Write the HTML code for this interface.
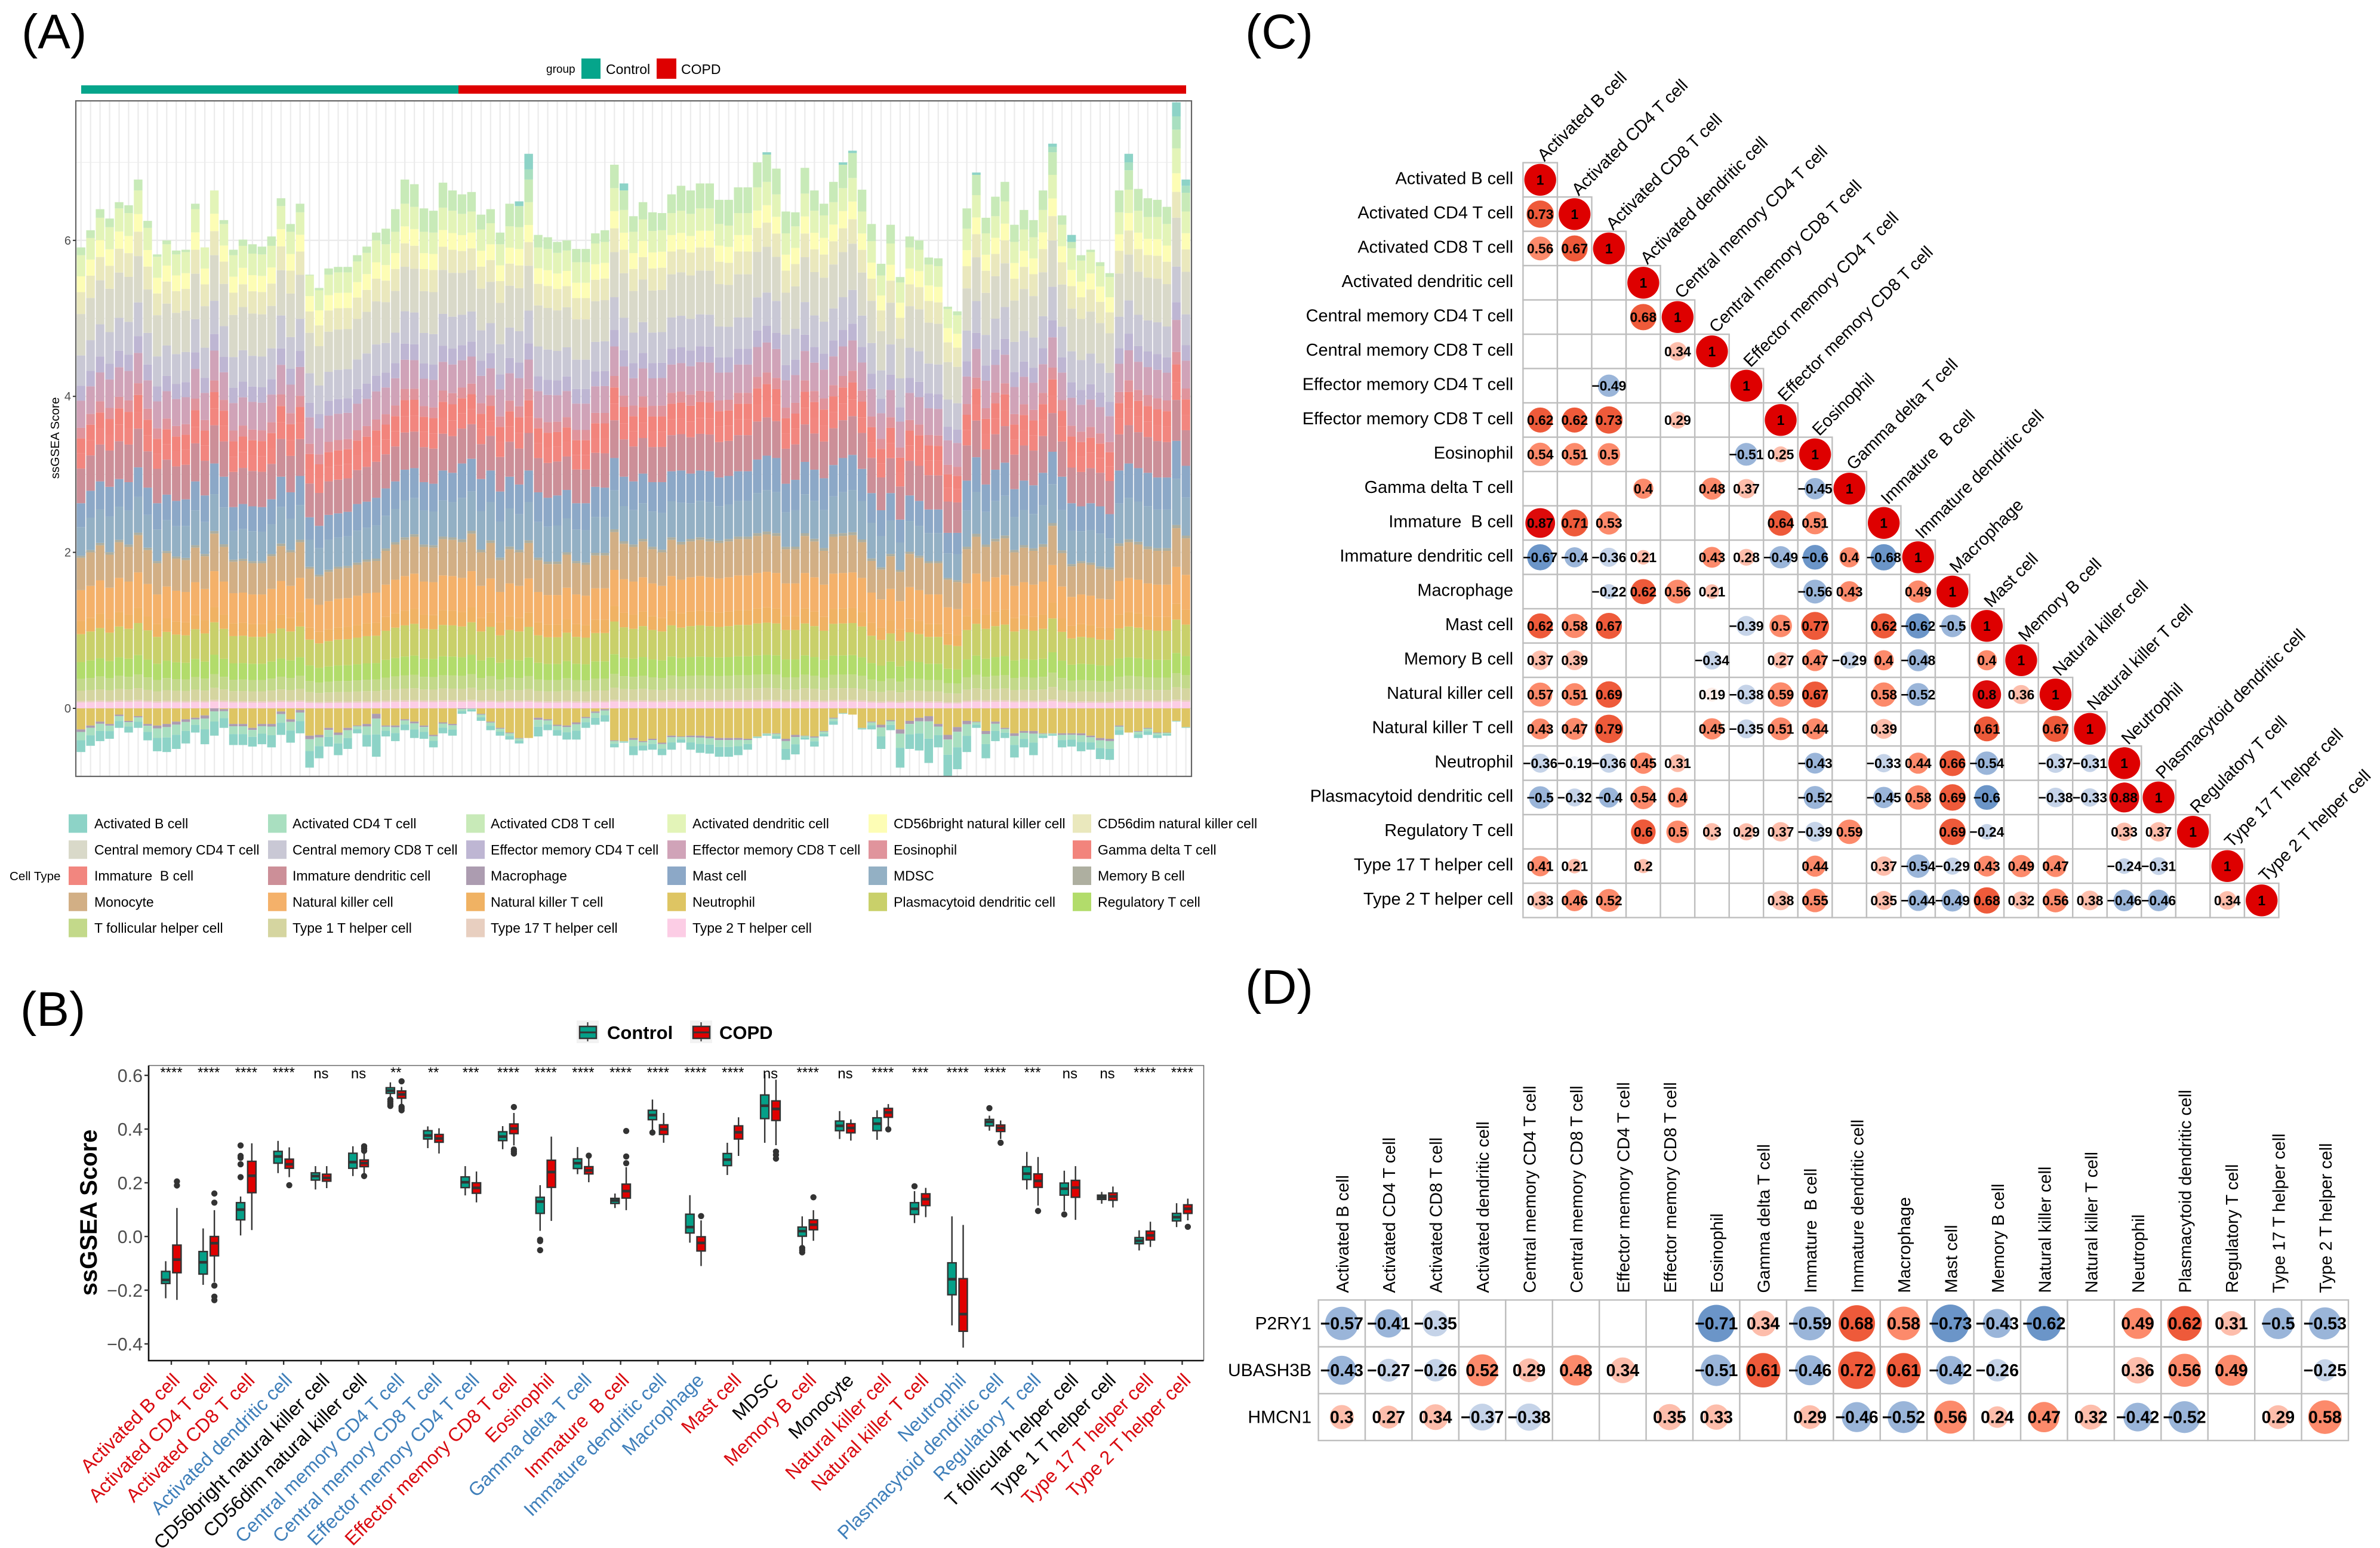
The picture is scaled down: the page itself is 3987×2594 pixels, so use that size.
<!DOCTYPE html>
<html lang="en">
<head>
<meta charset="utf-8">
<title>Immune infiltration figure</title>
<style>
html,body{margin:0;padding:0;background:#fff}
svg{display:block}
text{font-family:"Liberation Sans",sans-serif;white-space:pre}
</style>
</head>
<body>
<svg id="figure" xmlns="http://www.w3.org/2000/svg" width="3987" height="2594" viewBox="0 0 3987 2594">
<rect x="0" y="0" width="3987" height="2594" fill="#fff"/>

<text x="36" y="81" font-size="82">(A)</text>
<text x="34" y="1719" font-size="82">(B)</text>
<text x="2086" y="81" font-size="82">(C)</text>
<text x="2086" y="1682" font-size="82">(D)</text>

<g id="panelA">
  <text x="915" y="122" font-size="19">group</text>
  <rect x="974" y="98" width="32" height="34" fill="#05A58B"/>
  <text x="1015" y="124" font-size="23">Control</text>
  <rect x="1100" y="98" width="33" height="34" fill="#DE0000"/>
  <text x="1141" y="124" font-size="23">COPD</text>
  <rect x="136" y="143" width="632" height="14" fill="#05A58B"/>
  <rect x="768" y="143" width="1219" height="14" fill="#DE0000"/>
  <text transform="translate(99,734) rotate(-90)" text-anchor="middle" font-size="20.7">ssGSEA Score</text>
  <text x="16" y="1475" font-size="20.6">Cell Type</text>
</g>

<g id="panelB">
  <rect x="966" y="1710" width="37" height="38" fill="#f2f2f2"/>
  <line x1="984.5" x2="984.5" y1="1713" y2="1745" stroke="#333" stroke-width="2"/>
  <rect x="971" y="1720" width="28" height="20" fill="#04A088" stroke="#333" stroke-width="2.5"/>
  <line x1="971" x2="999" y1="1730" y2="1730" stroke="#333" stroke-width="3"/>
  <text x="1017" y="1741" font-size="31" font-weight="bold">Control</text>
  <rect x="1156" y="1710" width="37" height="38" fill="#f2f2f2"/>
  <line x1="1174.5" x2="1174.5" y1="1713" y2="1745" stroke="#333" stroke-width="2"/>
  <rect x="1161" y="1720" width="28" height="20" fill="#E00000" stroke="#333" stroke-width="2.5"/>
  <line x1="1161" x2="1189" y1="1730" y2="1730" stroke="#333" stroke-width="3"/>
  <text x="1205" y="1741" font-size="31" font-weight="bold">COPD</text>
  <text transform="translate(162,2032) rotate(-90)" text-anchor="middle" font-size="40" font-weight="bold">ssGSEA Score</text>
</g>

<g id="panelC"></g>
<g id="panelD"></g>
</svg>

<script>
/* ---------- Panel A data ---------- */
const cellTypes = ["Activated B cell","Activated CD4 T cell","Activated CD8 T cell","Activated dendritic cell","CD56bright natural killer cell","CD56dim natural killer cell","Central memory CD4 T cell","Central memory CD8 T cell","Effector memory CD4 T cell","Effector memory CD8 T cell","Eosinophil","Gamma delta T cell","Immature  B cell","Immature dendritic cell","Macrophage","Mast cell","MDSC","Memory B cell","Monocyte","Natural killer cell","Natural killer T cell","Neutrophil","Plasmacytoid dendritic cell","Regulatory T cell","T follicular helper cell","Type 1 T helper cell","Type 17 T helper cell","Type 2 T helper cell"];
const stackTicks = [0,2,4,6];
const stackTop = [5.91,6.13,6.40,6.28,6.49,6.45,6.78,6.25,5.82,6.00,5.87,5.88,6.47,5.91,6.64,6.26,5.88,6.01,5.95,5.92,6.05,6.54,6.21,6.47,5.56,5.39,5.64,5.66,5.66,5.81,5.92,6.10,6.15,6.40,6.78,6.72,6.41,6.38,6.74,6.64,6.59,6.62,6.33,6.40,6.10,6.47,6.50,7.11,6.07,6.04,5.98,6.00,5.89,5.89,6.09,6.13,6.97,6.73,6.31,6.49,6.36,6.35,6.59,6.70,6.64,6.73,6.73,6.52,6.52,6.68,6.68,7.00,7.13,6.92,6.37,6.36,6.93,6.64,6.47,6.75,7.00,7.15,6.65,6.21,5.70,6.20,5.53,6.05,6.00,5.78,5.77,5.15,5.09,6.41,6.87,6.29,6.56,6.75,6.20,6.39,6.26,6.64,7.24,6.32,6.07,5.81,5.88,5.72,5.58,6.64,7.11,6.66,6.54,6.52,6.43,7.77,6.78];
const mastTop = [2.63,2.79,2.91,2.84,2.94,2.90,3.09,2.83,2.63,2.74,2.66,2.68,2.91,2.73,3.14,2.97,2.58,2.62,2.59,2.58,2.68,2.97,2.77,2.98,2.45,2.34,2.48,2.50,2.52,2.62,2.65,2.70,2.82,2.91,3.06,3.08,2.90,2.88,3.05,3.02,3.14,3.20,2.94,3.05,2.78,2.97,2.87,3.05,2.77,2.70,2.73,2.80,2.63,2.63,2.84,2.83,3.21,2.97,2.91,3.01,2.90,2.90,3.04,3.05,3.01,3.05,3.04,2.96,2.98,3.04,3.04,3.19,3.24,3.21,2.88,2.93,3.16,3.06,2.95,3.12,3.21,3.25,3.07,2.76,2.54,2.76,2.42,2.73,2.66,2.55,2.55,2.25,2.25,2.92,3.22,2.87,3.06,3.15,2.81,2.92,2.86,3.02,3.29,2.97,2.63,2.59,2.63,2.59,2.49,3.05,3.14,3.08,3.02,2.96,2.96,3.43,3.11];
const monocyteTop = [1.93,2.00,2.09,1.97,2.13,2.07,2.22,2.03,1.86,1.99,1.92,1.90,2.06,1.95,2.24,2.07,1.88,1.89,1.86,1.86,1.95,2.08,2.00,2.13,1.79,1.69,1.75,1.79,1.80,1.84,1.88,1.89,2.02,2.10,2.16,2.20,2.07,2.06,2.17,2.16,2.13,2.24,2.00,2.12,1.90,2.04,2.00,2.12,1.90,1.85,1.85,1.97,1.86,1.84,1.96,1.96,2.26,2.11,2.07,2.14,2.04,2.00,2.16,2.10,2.14,2.16,2.14,2.12,2.14,2.17,2.17,2.21,2.23,2.21,2.04,2.04,2.21,2.14,2.02,2.20,2.21,2.22,2.13,1.89,1.78,1.95,1.75,1.98,1.93,1.86,1.86,1.65,1.62,2.04,2.20,2.07,2.14,2.18,2.00,2.06,2.02,2.07,2.34,1.99,1.82,1.86,1.84,1.79,1.78,2.08,2.13,2.10,2.04,2.02,2.02,2.31,2.18];
const stackBottom = [-.56,-.48,-.42,-.39,-.25,-.31,-.25,-.41,-.55,-.56,-.52,-.45,-.31,-.46,-.35,-.25,-.47,-.47,-.49,-.46,-.50,-.34,-.44,-.32,-.76,-.64,-.49,-.60,-.52,-.32,-.49,-.62,-.36,-.42,-.28,-.38,-.39,-.50,-.32,-.35,-.07,-.04,-.16,-.28,-.35,-.40,-.45,-.38,-.36,-.28,-.35,-.40,-.40,-.25,-.21,-.17,-.50,-.44,-.60,-.54,-.53,-.60,-.53,-.44,-.53,-.57,-.58,-.62,-.62,-.60,-.53,-.38,-.35,-.39,-.66,-.59,-.40,-.49,-.36,-.21,-.07,-.08,-.27,-.27,-.52,-.28,-.76,-.52,-.54,-.70,-.50,-.87,-.78,-.56,-.25,-.64,-.42,-.38,-.63,-.50,-.60,-.38,-.35,-.50,-.49,-.55,-.53,-.65,-.66,-.34,-.31,-.38,-.34,-.38,-.35,-.17,-.25];
const neutrophilBottom = [-.27,-.22,-.17,-.20,-.08,-.16,-.10,-.20,-.22,-.20,-.17,-.14,-.12,-.09,0,-.01,-.20,-.20,-.25,-.20,-.20,-.04,-.14,-.02,-.35,-.34,-.25,-.31,-.25,-.22,-.20,-.07,-.22,-.22,-.14,-.17,-.22,-.34,-.18,-.20,0,0,-.07,-.17,-.25,-.31,-.38,-.38,-.12,-.14,-.21,-.22,-.18,-.11,-.04,-.01,-.41,-.42,-.38,-.42,-.39,-.44,-.35,-.36,-.35,-.35,-.36,-.38,-.38,-.38,-.39,-.36,-.32,-.32,-.39,-.34,-.35,-.36,-.29,-.12,-.06,-.08,-.25,-.17,-.21,-.15,-.27,-.16,-.12,-.10,-.20,-.34,-.24,-.16,-.17,-.29,-.17,-.25,-.32,-.29,-.29,-.32,-.32,-.32,-.32,-.32,-.35,-.38,-.39,-.22,-.31,-.29,-.25,-.31,-.31,-.16,-.24];
const activatedCD8Layer = [.10,.10,.11,.11,.08,.10,.14,.09,.03,.05,.05,.03,.07,0,0,.05,.07,.08,.12,.10,.12,.10,.10,.11,.01,.03,.08,.07,.07,.08,.08,.10,.20,.29,.31,.29,.30,.28,.32,.26,.25,.25,.19,.18,.15,.29,.27,.29,.16,.15,.14,.13,.17,.17,.13,.15,.30,.25,.20,.22,.24,.22,.24,.32,.30,.32,.32,.31,.33,.33,.33,.32,.35,.33,.28,.18,.33,.26,.15,.26,.30,.32,.28,.22,.15,.24,.07,.14,.12,.09,.10,.03,.05,.26,.26,.20,.25,.25,.22,.25,.22,.25,.29,.12,.08,.07,.03,.05,.05,.28,.25,.28,.24,.22,.22,.24,.24];
const capSamples = [46,47,57,72,80,81,94,102,104,110,115,116];
const capActivatedB = [.06,.20,.09,.03,.03,.03,.03,.04,.09,.11,.18,.08];
const capActivatedCD4 = [0,.13,0,0,0,0,0,.07,0,.10,.17,.09];
/* typical score of each layer, used for splitting a sample's segments */
const upperLayerMeans = [.28,.21,.29,.55,.40,.20,.36,.14,.20,.20,.46];
const middleLayerMeans = [.35,.42,.03];
const lowerLayerMeans = [.44,.42,.18,.38,.23,.16,.14,.02,.08];
const negativeLayerMeans = [.03,.10,.14];
const layerPalette = ["#8DD3C7","#A9DFC0","#C8EAB8","#E3F4B8","#FDFDB5","#EAE8BD","#D9D9C9","#C9C8D5","#BEB6D3","#D0A3B8","#E0949C","#F2847C","#F2867F","#CC8F98","#AC9CB0","#8CA8C7","#93B0C4","#AEAFA0","#D2AF85","#F4B16A","#F0B263","#DEC563","#C9D06A","#B2DC6B","#C3D98A","#D5D5A0","#E8CFC0","#FCCDE5"];

/* ---------- Panel B data ---------- */
const boxCategories = ["Activated B cell","Activated CD4 T cell","Activated CD8 T cell","Activated dendritic cell","CD56bright natural killer cell","CD56dim natural killer cell","Central memory CD4 T cell","Central memory CD8 T cell","Effector memory CD4 T cell","Effector memory CD8 T cell","Eosinophil","Gamma delta T cell","Immature  B cell","Immature dendritic cell","Macrophage","Mast cell","MDSC","Memory B cell","Monocyte","Natural killer cell","Natural killer T cell","Neutrophil","Plasmacytoid dendritic cell","Regulatory T cell","T follicular helper cell","Type 1 T helper cell","Type 17 T helper cell","Type 2 T helper cell"];
const boxSignificance = ["****","****","****","****","ns","ns","**","**","***","****","****","****","****","****","****","****","ns","****","ns","****","***","****","****","***","ns","ns","****","****"];
const boxDirection = ["up","up","up","down","none","none","down","down","down","up","up","down","up","down","down","up","none","up","none","up","up","down","down","down","none","none","up","up"];
const boxTicks = [-0.4,-0.2,0,0.2,0.4,0.6];
const controlLow = [-.23,-.18,.004,.236,.175,.225,.517,.329,.153,.325,.021,.232,.106,.396,-.023,.229,.349,-.032,.363,.36,.05,-.331,.394,.175,.095,.122,-.052,.035];
const controlQ1 = [-.175,-.14,.062,.273,.21,.254,.533,.363,.182,.357,.086,.253,.123,.435,.013,.264,.439,.001,.394,.394,.082,-.217,.412,.212,.154,.138,-.027,.058];
const controlMedian = [-.162,-.096,.10,.298,.225,.277,.543,.376,.202,.372,.13,.273,.134,.452,.035,.286,.487,.02,.412,.42,.103,-.159,.427,.234,.178,.146,-.016,.072];
const controlQ3 = [-.13,-.056,.126,.317,.237,.31,.554,.394,.222,.39,.146,.289,.142,.47,.083,.309,.527,.035,.43,.442,.126,-.098,.436,.26,.199,.154,-.004,.086];
const controlHigh = [-.092,.03,.149,.356,.262,.336,.574,.41,.262,.411,.191,.333,.16,.51,.154,.349,.604,.075,.467,.47,.169,.075,.45,.315,.245,.166,.023,.124];
const controlOutliers = [[],[],[.339,.30,.293,.269,.221],[],[],[],[.51,.502,.494,.486],[],[],[],[-.012,-.017,-.051],[],[],[.387],[],[],[],[-.043,-.051,-.059],[],[],[.187],[],[.478],[],[.082],[],[],[]];
const copdLow = [-.236,-.17,.024,.221,.18,.236,.49,.309,.127,.339,.058,.202,.098,.349,-.11,.30,.34,-.016,.357,.41,.072,-.414,.363,.115,.062,.108,-.039,.06];
const copdQ1 = [-.135,-.072,.163,.254,.206,.26,.515,.351,.161,.383,.183,.233,.143,.38,-.054,.363,.432,.025,.386,.444,.115,-.353,.391,.183,.146,.135,-.013,.086];
const copdMedian = [-.086,-.025,.226,.269,.218,.273,.529,.365,.181,.402,.24,.246,.169,.399,-.024,.388,.475,.044,.404,.462,.139,-.289,.404,.207,.182,.149,.004,.103];
const copdQ3 = [-.032,0,.28,.288,.232,.285,.542,.38,.2,.419,.284,.26,.195,.416,-.001,.412,.505,.062,.42,.477,.159,-.157,.415,.233,.209,.162,.02,.118];
const copdHigh = [.106,.098,.347,.332,.262,.31,.557,.403,.242,.46,.372,.296,.258,.46,.06,.444,.584,.098,.436,.493,.181,.043,.432,.296,.262,.186,.055,.141];
const copdOutliers = [[.205,.19],[.16,.126,-.183,-.224,-.237],[],[.191],[],[.336,.328,.319,.225],[.578,.483,.477,.47],[],[],[.482,.324,.316,.309],[],[.301],[.393,.298,.273],[],[.076],[],[.316,.304,.29],[.146],[],[.399],[],[],[.349],[.095],[],[],[],[.036]];

/* ---------- Panel C data ---------- */
const corrLabels = ["Activated B cell","Activated CD4 T cell","Activated CD8 T cell","Activated dendritic cell","Central memory CD4 T cell","Central memory CD8 T cell","Effector memory CD4 T cell","Effector memory CD8 T cell","Eosinophil","Gamma delta T cell","Immature  B cell","Immature dendritic cell","Macrophage","Mast cell","Memory B cell","Natural killer cell","Natural killer T cell","Neutrophil","Plasmacytoid dendritic cell","Regulatory T cell","Type 17 T helper cell","Type 2 T helper cell"];
const _ = null;
const corrMatrix = [
[1],
[.73,1],
[.56,.67,1],
[_,_,_,1],
[_,_,_,.68,1],
[_,_,_,_,.34,1],
[_,_,-.49,_,_,_,1],
[.62,.62,.73,_,.29,_,_,1],
[.54,.51,.5,_,_,_,-.51,.25,1],
[_,_,_,.4,_,.48,.37,_,-.45,1],
[.87,.71,.53,_,_,_,_,.64,.51,_,1],
[-.67,-.4,-.36,.21,_,.43,.28,-.49,-.6,.4,-.68,1],
[_,_,-.22,.62,.56,.21,_,_,-.56,.43,_,.49,1],
[.62,.58,.67,_,_,_,-.39,.5,.77,_,.62,-.62,-.5,1],
[.37,.39,_,_,_,-.34,_,.27,.47,-.29,.4,-.48,_,.4,1],
[.57,.51,.69,_,_,.19,-.38,.59,.67,_,.58,-.52,_,.8,.36,1],
[.43,.47,.79,_,_,.45,-.35,.51,.44,_,.39,_,_,.61,_,.67,1],
[-.36,-.19,-.36,.45,.31,_,_,_,-.43,_,-.33,.44,.66,-.54,_,-.37,-.31,1],
[-.5,-.32,-.4,.54,.4,_,_,_,-.52,_,-.45,.58,.69,-.6,_,-.38,-.33,.88,1],
[_,_,_,.6,.5,.3,.29,.37,-.39,.59,_,_,.69,-.24,_,_,_,.33,.37,1],
[.41,.21,_,.2,_,_,_,_,.44,_,.37,-.54,-.29,.43,.49,.47,_,-.24,-.31,_,1],
[.33,.46,.52,_,_,_,_,.38,.55,_,.35,-.44,-.49,.68,.32,.56,.38,-.46,-.46,_,.34,1]
];

/* ---------- Panel D data ---------- */
const geneLabels = ["P2RY1","UBASH3B","HMCN1"];
const geneCorrP2RY1 = [-.57,-.41,-.35,_,_,_,_,_,-.71,.34,-.59,.68,.58,-.73,-.43,-.62,_,.49,.62,.31,-.5,-.53];
const geneCorrUBASH3B = [-.43,-.27,-.26,.52,.29,.48,.34,_,-.51,.61,-.46,.72,.61,-.42,-.26,_,_,.36,.56,.49,_,-.25];
const geneCorrHMCN1 = [.3,.27,.34,-.37,-.38,_,_,.35,.33,_,.29,-.46,-.52,.56,.24,.47,.32,-.42,-.52,_,.29,.58];

/* ---------- helpers ---------- */
const SVGNS = "http://www.w3.org/2000/svg";
function shape(parent, tag, attrs, content) {
  const node = document.createElementNS(SVGNS, tag);
  for (const k in attrs) node.setAttribute(k, attrs[k]);
  if (content !== undefined) node.textContent = content;
  parent.appendChild(node);
  return node;
}
function sum(a) { return a.reduce((s, v) => s + v, 0); }
function corrColor(r) {
  const a = Math.abs(r);
  if (r >= 0) {
    if (a < .2) return "#FDEDE8";
    if (a < .4) return "#FDBDAB";
    if (a < .6) return "#FC8A6B";
    if (a < .8) return "#EE5A3A";
    return "#DE0A0A";
  }
  if (a < .2) return "#EEF1F8";
  if (a < .4) return "#C5D3E8";
  if (a < .6) return "#9AB5D9";
  if (a < .8) return "#6B95C8";
  return "#3B6FB0";
}
function fmt(r) {
  const s = String(Math.abs(r));
  return (r < 0 ? "\u2212" : "") + s;
}

/* ---------- Panel A ---------- */
const panelA = document.getElementById("panelA");
const aFrame = {l: 127, r: 1996, t: 169, b: 1301};
const xA = i => 135.7 + i * 15.956;
const yA = v => 1187 - 130.7 * v;
const aBarW = 14.4;

[1,3,5,7].forEach(v => {
  const ln = shape(panelA, "line", {x1: aFrame.l, x2: aFrame.r, y1: yA(v), y2: yA(v), stroke: "#f0f0f0", "stroke-width": 1.5});
  
  
});
stackTicks.forEach(v => {
  const ln = shape(panelA, "line", {x1: aFrame.l, x2: aFrame.r, y1: yA(v), y2: yA(v), stroke: "#ebebeb", "stroke-width": 2.5});
  
  
});
stackTop.forEach((_v, i) => {
  const ln = shape(panelA, "line", {x1: xA(i), x2: xA(i), y1: aFrame.t, y2: aFrame.b, stroke: "#ebebeb", "stroke-width": 2.2});
  
  
});

function drawSegment(i, typeIndex, v0, v1) {
  if (Math.abs(v1 - v0) < 1e-6) return;
  const top = yA(Math.max(v0, v1));
  const bottom = yA(Math.min(v0, v1));
  const seg = shape(panelA, "rect", {x: xA(i) - aBarW / 2, y: top, width: aBarW, height: bottom - top, fill: layerPalette[typeIndex]});
  
  
}
function splitSegment(i, typeIndexes, means, from, to) {
  const total = sum(means);
  let cur = from;
  typeIndexes.forEach((t, k) => {
    const next = cur + (to - from) * means[k] / total;
    drawSegment(i, t, cur, next);
    cur = next;
  });
}
stackTop.forEach((top, i) => {
  /* positive: from zero up */
  splitSegment(i, [27,26,25,24,23,22,20,19,18], lowerLayerMeans.slice().reverse(), 0, monocyteTop[i]);
  splitSegment(i, [17,16,15], middleLayerMeans.slice().reverse(), monocyteTop[i], mastTop[i]);
  const c = capSamples.indexOf(i);
  const capB = c >= 0 ? capActivatedB[c] : 0;
  const capCD4 = c >= 0 ? capActivatedCD4[c] : 0;
  const cd8Top = top - capB - capCD4;
  const cd8Bottom = cd8Top - activatedCD8Layer[i];
  splitSegment(i, [13,12,11,10,9,8,7,6,5,4,3], upperLayerMeans.slice().reverse(), mastTop[i], cd8Bottom);
  drawSegment(i, 2, cd8Bottom, cd8Top);
  drawSegment(i, 1, cd8Top, cd8Top + capCD4);
  drawSegment(i, 0, cd8Top + capCD4, top);
  /* negative: from zero down */
  drawSegment(i, 21, 0, neutrophilBottom[i]);
  splitSegment(i, [14,1,0], negativeLayerMeans, neutrophilBottom[i], stackBottom[i]);
});
const aBorder = shape(panelA, "rect", {x: aFrame.l, y: aFrame.t, width: aFrame.r - aFrame.l, height: aFrame.b - aFrame.t, fill: "none", stroke: "#666", "stroke-width": 2.2});


stackTicks.forEach(v => {
  const tk = shape(panelA, "line", {x1: aFrame.l - 5, x2: aFrame.l, y1: yA(v), y2: yA(v), stroke: "#333", "stroke-width": 2});
  
  
  const lb = shape(panelA, "text", {x: aFrame.l - 8, y: yA(v) + 7, "text-anchor": "end", "font-size": 20, fill: "#4d4d4d"}, String(v));
  
  
});
const legendSwatchX = [115,449,781,1118,1455,1797];
const legendTextX = [158,490,822,1160,1497,1839];
cellTypes.forEach((name, i) => {
  const col = i % 6, row = Math.floor(i / 6);
  const cy = 1380 + row * 43.75;
  const sw = shape(panelA, "rect", {x: legendSwatchX[col], y: cy - 15.5, width: 31, height: 31, fill: layerPalette[i]});
  
  
  const tx = shape(panelA, "text", {x: legendTextX[col], y: cy + 8, "font-size": 23}, name);
  
  
});

/* ---------- Panel B ---------- */
const panelB = document.getElementById("panelB");
const bFrame = {l: 249, r: 2016.5, t: 1785.5, b: 2280};
const xB = i => 287 + i * 62.72;
const yB = v => 2072 - 450 * v;
const boxOffset = 9.4, boxW = 14;
const labelColors = {up: "#D90A10", down: "#3F7FBA", none: "#000"};

function drawBox(i, offset, fill, low, q1, med, q3, high, outliers, group) {
  const cx = xB(i) + offset;
  const wh = shape(panelB, "line", {x1: cx, x2: cx, y1: yB(high), y2: yB(low), stroke: "#333", "stroke-width": 2.4});
  
  
  const bx = shape(panelB, "rect", {x: cx - boxW / 2, y: yB(q3), width: boxW, height: yB(q1) - yB(q3), fill: fill, stroke: "#333", "stroke-width": 2.4});
  
  
  const md = shape(panelB, "line", {x1: cx - boxW / 2, x2: cx + boxW / 2, y1: yB(med), y2: yB(med), stroke: "#333", "stroke-width": 4.5});
  
  
  outliers.forEach(v => {
    const ot = shape(panelB, "circle", {cx: cx, cy: yB(v), r: 5.2, fill: "#333"});
    
    
  });
}
boxCategories.forEach((name, i) => {
  drawBox(i, -boxOffset, "#04A088", controlLow[i], controlQ1[i], controlMedian[i], controlQ3[i], controlHigh[i], controlOutliers[i], "control");
  drawBox(i, boxOffset, "#E00000", copdLow[i], copdQ1[i], copdMedian[i], copdQ3[i], copdHigh[i], copdOutliers[i], "copd");
  const sig = boxSignificance[i];
  const st = shape(panelB, "text", {x: xB(i), y: sig === "ns" ? 1807 : 1805, "text-anchor": "middle", "font-size": 24}, sig);
  
  
  const tk = shape(panelB, "line", {x1: xB(i), x2: xB(i), y1: bFrame.b, y2: bFrame.b + 7, stroke: "#333", "stroke-width": 2.4});
  
  
  const lb = shape(panelB, "text", {transform: "translate(" + (xB(i) + 16) + "," + (bFrame.b + 35) + ") rotate(-45)", "text-anchor": "end", "font-size": 32, fill: labelColors[boxDirection[i]]}, name);
  
  
});
const bBorder = shape(panelB, "path", {d: "M" + bFrame.l + " " + bFrame.t + " H" + bFrame.r + " V" + bFrame.b, fill: "none", stroke: "#666", "stroke-width": 1.5});


const bAxes = shape(panelB, "path", {d: "M" + bFrame.l + " " + bFrame.t + " V" + bFrame.b + " H" + bFrame.r, fill: "none", stroke: "#111", "stroke-width": 2.6});


boxTicks.forEach(v => {
  const tk = shape(panelB, "line", {x1: bFrame.l - 7, x2: bFrame.l, y1: yB(v), y2: yB(v), stroke: "#333", "stroke-width": 2.4});
  
  
  const text = (v < 0 ? "\u2212" : "") + Math.abs(v).toFixed(1);
  const lb = shape(panelB, "text", {x: 239, y: yB(v) + 11, "text-anchor": "end", "font-size": 30.4, fill: "#4d4d4d"}, text);
  
  
});

/* ---------- Panel C ---------- */
const panelC = document.getElementById("panelC");
const xC = j => 2551.4 + j * 57.55;
const yC = i => 272.6 + i * 57.5;
corrMatrix.forEach((row, i) => {
  row.forEach((r, j) => {
    const cell = shape(panelC, "rect", {x: xC(j), y: yC(i), width: 57.55, height: 57.5, fill: "#fff", stroke: "#BEBEBE", "stroke-width": 2.4});
    
    
  });
});
corrMatrix.forEach((row, i) => {
  row.forEach((r, j) => {
    if (r === null) return;
    const cx = xC(j) + 28.8, cy = yC(i) + 28.75;
    const dot = shape(panelC, "circle", {cx: cx, cy: cy, r: 26.7 * Math.sqrt(Math.abs(r)), fill: r === 1 ? "#DE0000" : corrColor(r)});
    
    
  });
});
corrMatrix.forEach((row, i) => {
  row.forEach((r, j) => {
    if (r === null) return;
    const val = shape(panelC, "text", {x: xC(j) + 28.8, y: yC(i) + 28.75 + 8, "text-anchor": "middle", "font-size": 23, "font-weight": "bold"}, fmt(r));
    
    
  });
});
corrLabels.forEach((name, i) => {
  const rl = shape(panelC, "text", {x: 2535, y: yC(i) + 28.75 + 7, "text-anchor": "end", "font-size": 28.9}, name);
  
  
  const cl = shape(panelC, "text", {transform: "translate(" + (xC(i) + 35.8) + "," + (yC(i) - 1) + ") rotate(-45)", "font-size": 28.9}, name);
  
  
});

/* ---------- Panel D ---------- */
const panelD = document.getElementById("panelD");
const xD = j => 2208.6 + j * 78.43;
const yD = i => 2178.4 + i * 78.5;
const geneRows = [geneCorrP2RY1, geneCorrUBASH3B, geneCorrHMCN1];
geneRows.forEach((row, i) => {
  row.forEach((r, j) => {
    const cell = shape(panelD, "rect", {x: xD(j), y: yD(i), width: 78.43, height: 78.5, fill: "#fff", stroke: "#BEBEBE", "stroke-width": 2.4});
    
    
  });
});
geneRows.forEach((row, i) => {
  row.forEach((r, j) => {
    if (r === null) return;
    const cx = xD(j) + 39.2, cy = yD(i) + 39.25;
    const dot = shape(panelD, "circle", {cx: cx, cy: cy, r: 37 * Math.sqrt(Math.abs(r)), fill: corrColor(r)});
    
    
  });
});
geneRows.forEach((row, i) => {
  row.forEach((r, j) => {
    if (r === null) return;
    const val = shape(panelD, "text", {x: xD(j) + 39.2, y: yD(i) + 39.25 + 10, "text-anchor": "middle", "font-size": 28.6, "font-weight": "bold"}, fmt(r));
    
    
  });
});
geneLabels.forEach((name, i) => {
  const rl = shape(panelD, "text", {x: 2197, y: yD(i) + 39.25 + 10, "text-anchor": "end", "font-size": 30}, name);
  
  
});
corrLabels.forEach((name, j) => {
  const cl = shape(panelD, "text", {transform: "translate(" + (xD(j) + 50.2) + ",2166.6) rotate(-90)", "font-size": 28.9}, name);
  
  
});
</script>
</body>
</html>
